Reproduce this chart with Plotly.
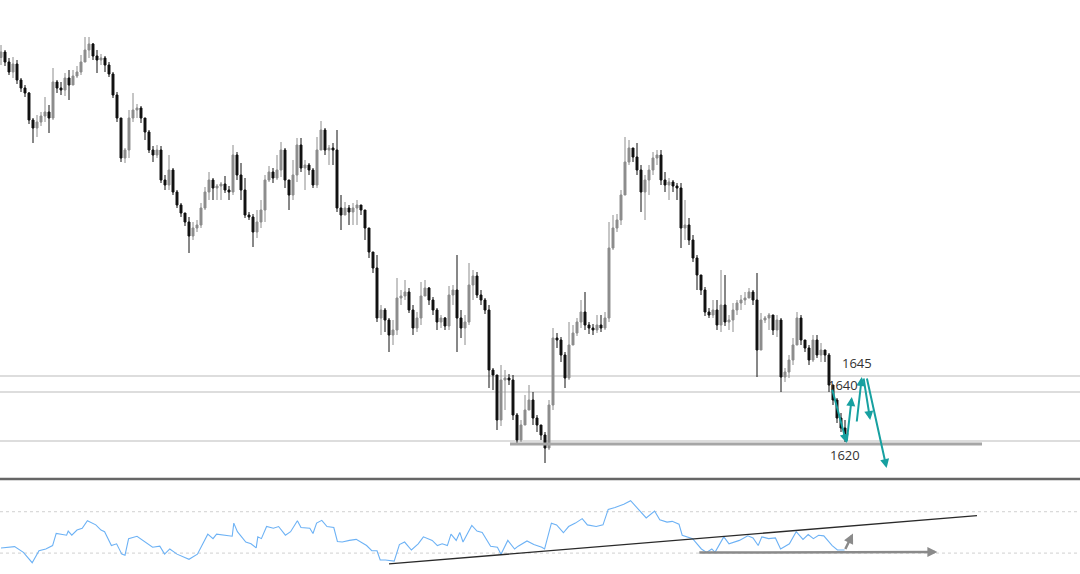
import plotly.graph_objects as go

# ---- price data (candles, one per bar) ----
close = [1777.2, 1773.2, 1769.2, 1772.4, 1766, 1762.8, 1760.8, 1750, 1746.8, 1749.2, 1751.6, 1753.2, 1750.8, 1765.2,
         1762.8, 1762, 1766.8, 1764, 1767.6, 1769.2, 1773.2, 1778, 1780.4, 1775.6, 1774, 1774.8, 1772, 1768.4, 1760,
         1750.8, 1734.8, 1738,
         1750.8, 1754, 1754.8, 1750.8, 1745.2, 1738, 1736, 1738, 1726, 1724, 1730, 1721.2, 1716, 1712.8, 1709.2,
         1703.6, 1706.8, 1708, 1714.8, 1721.2, 1726, 1722.8, 1723.6, 1724.4, 1722, 1721.2, 1736, 1728, 1722, 1712,
         1711.2, 1705.2, 1709.2, 1714, 1726, 1729.2, 1726.8, 1730, 1738, 1726, 1720, 1728, 1740, 1730.8, 1732, 1730,
         1724, 1738, 1746, 1738, 1738.8, 1738, 1714.8, 1712, 1714.8, 1713.2, 1714.8, 1716, 1714, 1706.8, 1697.2,
         1690.8, 1670.8, 1674, 1670, 1664, 1666, 1678.8, 1679.6, 1681.2, 1674, 1666.8, 1670.8, 1679.6, 1682.8, 1678,
         1674, 1669.2, 1670.8, 1667.6, 1680, 1682, 1670.8, 1666.8, 1669.2, 1684, 1687.6, 1680, 1678, 1674, 1650,
         1648, 1630, 1646, 1646.8, 1646, 1632, 1622, 1628, 1634, 1638, 1630.8, 1628, 1624, 1618.8, 1636, 1662.8,
         1662, 1656, 1646.8, 1660, 1664.8, 1669.2, 1673.2, 1668, 1666.8, 1666, 1668, 1666.8, 1670.8, 1698.8, 1706.8,
         1710, 1720, 1733.2, 1738.8, 1735.2, 1730, 1721.2, 1726, 1730, 1734.8, 1736, 1726, 1724, 1725.2, 1723.6,
         1722.8, 1706.8, 1708, 1702, 1694.8, 1688, 1682, 1673.2, 1672, 1674, 1668, 1676, 1669.2, 1670, 1674, 1676.8,
         1678, 1678.8, 1681.2, 1678, 1658, 1670, 1670.8, 1672, 1666, 1670, 1647.2, 1649.2, 1654, 1660, 1670.8, 1662,
         1658.8, 1654, 1662, 1656, 1658, 1656, 1644, 1638, 1630.8, 1626.8, 1624]

high = [1780, 1778, 1774.8, 1775.2, 1774, 1766.8, 1764, 1761.2, 1750.8, 1752, 1753.2, 1759.2, 1756, 1770.8, 1766,
        1765.2, 1768.8, 1770, 1770, 1771.6, 1776, 1783.2, 1783.2, 1780.8, 1778, 1776.4, 1775.6, 1773.2, 1769.2,
        1761.2, 1750.8, 1738.8,
        1754, 1760.8, 1756.4, 1755.6, 1750.8, 1746, 1739.6, 1740, 1739.6, 1728, 1736, 1730.8, 1722, 1716.8, 1712.8,
        1711.2, 1709.2, 1710, 1716.8, 1723.2, 1729.2, 1726.8, 1724.4, 1725.2, 1727.6, 1723.6, 1740, 1737.2, 1732.8,
        1726.8, 1713.2, 1712.4, 1714, 1718, 1728, 1731.6, 1730.8, 1736, 1741.2, 1738.8, 1726, 1734, 1742.8, 1742.8,
        1734, 1732.8, 1730.8, 1743.2, 1749.6, 1746.8, 1740, 1740.8, 1746, 1720, 1717.2, 1716, 1716.8, 1718, 1716,
        1714, 1706.8, 1697.2, 1696, 1676, 1674.8, 1670.8, 1670, 1686.8, 1682, 1686, 1682.8, 1676, 1673.2, 1685.2,
        1686, 1683.2, 1679.2, 1674.8, 1672, 1671.2, 1683.6, 1684, 1696, 1674, 1672, 1692.8, 1690, 1689.2, 1682,
        1678.8, 1676, 1650.8, 1648, 1652, 1650, 1648.4, 1648, 1632.8, 1630, 1640, 1644, 1641.2, 1632, 1628, 1625.2,
        1638, 1666.8, 1664.8, 1663.2, 1657.2, 1669.2, 1668, 1670.8, 1678, 1681.2, 1669.2, 1668.4, 1672, 1672,
        1673.2, 1709.2, 1712, 1712.4, 1722, 1743.2, 1742, 1738, 1740.8, 1732, 1728, 1732, 1737.2, 1738, 1738,
        1729.2, 1726.8, 1726, 1724.8, 1724.8, 1718, 1710.8, 1704, 1696, 1688, 1683.2, 1674.8, 1678, 1678, 1690,
        1688, 1672, 1676.8, 1678, 1680, 1681.2, 1682.8, 1682, 1688.8, 1672.8, 1671.6, 1672.8, 1672, 1672, 1670.8,
        1650.8, 1656, 1662.8, 1673.2, 1672, 1662, 1660, 1664, 1664, 1660.8, 1658, 1656.8, 1644, 1638.8, 1632.8,
        1630]

low = [1772, 1771.6, 1768, 1766.8, 1764.4, 1761.2, 1759.2, 1748.4, 1740.8, 1743.2, 1747.6, 1749.2, 1744.8, 1750,
       1760.8, 1760, 1759.6, 1758, 1764.8, 1766.8, 1768, 1773.2, 1774.8, 1774, 1768.8, 1772, 1769.2, 1767.2,
       1758.8, 1749.2, 1733.2, 1732.8,
       1734.8, 1749.2, 1750.8, 1748.8, 1742, 1736.8, 1733.2, 1734.8, 1724.8, 1722, 1722, 1720, 1714.8, 1711.2,
       1707.6, 1696.8, 1702, 1705.2, 1706.8, 1714, 1718, 1718, 1718, 1718, 1720.8, 1718, 1720, 1726, 1718, 1710.8,
       1710, 1699.2, 1702.8, 1706.8, 1709.2, 1725.2, 1724.8, 1726, 1727.2, 1722.8, 1714, 1718, 1725.2, 1729.2,
       1722, 1728, 1722.8, 1722.8, 1738, 1736, 1732, 1732, 1713.2, 1706, 1712, 1708, 1708, 1708, 1712, 1702,
       1694.8, 1688.8, 1669.2, 1664, 1665.2, 1657.2, 1660, 1664, 1676, 1678, 1672.8, 1664, 1665.2, 1668, 1679.6,
       1676, 1672, 1666, 1666.8, 1666, 1666, 1676, 1657.2, 1662.8, 1660, 1668, 1678, 1678.8, 1676, 1672.4, 1642.8,
       1642, 1626, 1627.6, 1634, 1644, 1630, 1620.8, 1621.2, 1630.8, 1636, 1628, 1625.2, 1622, 1612.8, 1618, 1634,
       1658.8, 1653.2, 1642.8, 1646, 1662, 1663.6, 1666.8, 1666, 1664.4, 1664, 1664.8, 1665.2, 1666, 1669.2, 1698,
       1705.2, 1708, 1720, 1732, 1733.2, 1728, 1713.2, 1710, 1720, 1728, 1732, 1724, 1721.2, 1718, 1721.2, 1718,
       1698.8, 1702, 1700, 1693.2, 1682, 1680, 1671.6, 1670.8, 1670.8, 1666, 1665.2, 1667.6, 1666, 1665.2, 1672,
       1674, 1676, 1678.8, 1676, 1647.2, 1658, 1668.8, 1666, 1664, 1663.2, 1641.2, 1645.2, 1646.8, 1652, 1660,
       1660, 1657.2, 1652, 1653.2, 1654.8, 1653.2, 1653.2, 1641.2, 1636, 1628.8, 1625.2, 1621.2]

first_open = 1775.0

# ---- oscillator (bar position, value) ----
osc_bar = [0, 3.4, 5.6, 7.8, 9.5, 11.2, 12.9, 13.8, 16.4, 16.8, 17.7, 19, 20.3, 21.6, 23.7, 25, 25.9, 27.6, 28.9,
           30.2, 31, 31.9, 34, 36.2, 37.9, 39.7, 40.9, 42.2, 44, 47, 49.1, 51.7, 53, 53.9, 56.9, 57.8, 58.2, 59.1,
           61.2, 62.5, 63.8, 64.2, 65.1, 66.4, 68.1, 69.4, 71.1, 72.4, 74.1, 75, 77.2, 78, 78.9, 80.2, 81.5, 83.2,
           84.1, 85.3, 87.1, 88.8, 91.4, 92.7, 94, 94.8, 96.1, 98.3, 99.6, 100.9, 102.6, 104.3, 105.6, 107.8, 109.1,
           110.3, 111.6, 112.5, 113.8, 114.7, 115.5, 117.7, 119, 120.3, 122.4, 124.1, 125, 126.7, 128.4, 129.3,
           131.5, 133.2, 135.2, 135.9, 137.6, 138.9, 140.6, 141.9, 143.6, 145.3, 146.6, 148.8, 150.5, 151.8, 153.5,
           155.7, 157.4, 159.6, 161.3, 163.4, 164.7, 166.5, 167.8, 169.5, 170.3, 172.9, 175.1, 176.4, 177.7, 178.5,
           180.7, 182, 184.6, 186.7, 188, 189.3, 190.2, 191.9, 193.6, 194.9, 197.1, 198.8, 200.5, 201.8, 203.1,
           204.4, 205.7, 207.8, 209.1, 210.9]
osc_val = [35, 36.3, 30.7, 20.7, 32.3, 34, 37.3, 49, 47.3, 51.3, 47.3, 52.3, 54, 61.3, 57.3, 52.3, 50.7, 37.3, 39,
           29, 28, 44, 46.3, 40.7, 35.7, 36.7, 29, 34, 29, 24, 29, 48.3, 44, 48.3, 47.3, 46.3, 59, 50.7, 40.7, 39,
           35, 45.7, 44, 55.7, 54, 55.7, 47.3, 50.7, 61.3, 54.7, 54, 49, 59, 61.7, 55.7, 54.7, 41.3, 40.7, 42.3,
           43.3, 37.3, 32.3, 32.3, 23.3, 23.3, 22.3, 38.3, 40.7, 33, 39, 45.7, 42.3, 37.3, 39, 37.3, 48.3, 42.3, 50,
           40.7, 56.7, 51.3, 50, 36.7, 35.7, 29, 42.3, 34, 36.7, 41.7, 38.3, 35.7, 34, 59, 57.3, 49.7, 55.7, 59,
           63.3, 57.3, 55.7, 57.3, 72.3, 74, 77.3, 80.7, 70.7, 64, 70.7, 62.3, 60, 60.7, 58, 47.3, 44, 34, 30.7, 34,
           30.7, 45.7, 39, 42.3, 46.7, 44.7, 37.3, 45.7, 44, 44.7, 34, 39, 50.7, 43.3, 48, 44, 47.3, 46.7, 37.3, 33,
           33]

# ---- drawn levels and projections ----
level_lines = [1647.6, 1641.2, 1621.6]
support_level = 1620.4
support_span = [127.25, 245.25]
level_labels = ["1645", "1640", "1620"]
label_pos = [(214.0, 1653.0), (210.4, 1644.2), (211.0, 1616.0)]
projection = [  # (from bar, from price, to bar, to price)
    (207.7, 1642.8, 211.4, 1620.8),
    (211.4, 1620.8, 212.7, 1639.2),
    (213.9, 1628.8, 215.2, 1647.2),
    (215.6, 1647.2, 217.3, 1630.0),
    (216.4, 1647.2, 221.4, 1610.8),
]
osc_levels = [70, 30]
osc_trend = ([97, 244], [19.5, 66.3])
osc_arrows = [(174.2, 30.5, 234.1, 31.0), (210.9, 32.5, 213.0, 49.0)]

n = len(close)
if len(high) != n or len(low) != n:
    raise ValueError(f"lengths close={len(close)} high={len(high)} low={len(low)}")
open_ = [first_open] + close[:-1]
bars = list(range(n))

fig = go.Figure()
fig.add_trace(go.Candlestick(
    x=bars, open=open_, high=high, low=low, close=close,
    increasing=dict(line=dict(color="#8c8c8c", width=1), fillcolor="#8c8c8c"),
    decreasing=dict(line=dict(color="#111111", width=1), fillcolor="#111111"),
    whiskerwidth=0, xaxis="x", yaxis="y", showlegend=False, hoverinfo="skip"))

fig.add_trace(go.Scatter(x=osc_bar, y=osc_val, mode="lines",
                         line=dict(color="#6db2f5", width=1.1),
                         xaxis="x2", yaxis="y2", showlegend=False, hoverinfo="skip"))
fig.add_trace(go.Scatter(x=osc_trend[0], y=osc_trend[1], mode="lines",
                         line=dict(color="#2a2a2a", width=1.3),
                         xaxis="x2", yaxis="y2", showlegend=False, hoverinfo="skip"))

shapes = []
for lv in level_lines:
    shapes.append(dict(type="line", xref="paper", yref="y", x0=0, x1=1, y0=lv, y1=lv,
                       line=dict(color="#d2d2d2", width=1.5), layer="below"))
shapes.append(dict(type="line", xref="x", yref="y", x0=support_span[0], x1=support_span[1],
                   y0=support_level, y1=support_level, line=dict(color="#a6a6a6", width=3)))
for lv in osc_levels:
    shapes.append(dict(type="line", xref="paper", yref="y2", x0=0, x1=1, y0=lv, y1=lv,
                       line=dict(color="#d0d0d0", width=1, dash="dot"), layer="below"))
shapes.append(dict(type="line", xref="paper", yref="paper", x0=0, x1=1, y0=0.1655, y1=0.1655,
                   line=dict(color="#666666", width=2.5)))

annotations = []
for (x0, y0, x1, y1) in projection:
    annotations.append(dict(x=x1, y=y1, ax=x0, ay=y0, xref="x", yref="y", axref="x", ayref="y",
                            text="", showarrow=True, arrowhead=2, arrowsize=0.9, arrowwidth=2,
                            arrowcolor="#17a0a0"))
for (x0, y0, x1, y1) in osc_arrows:
    annotations.append(dict(x=x1, y=y1, ax=x0, ay=y0, xref="x2", yref="y2", axref="x2", ayref="y2",
                            text="", showarrow=True, arrowhead=2, arrowsize=0.8, arrowwidth=2.5,
                            arrowcolor="#8a8a8a"))
for txt, (lx, ly) in zip(level_labels, label_pos):
    annotations.append(dict(x=lx, y=ly, xref="x", yref="y", text=txt, showarrow=False,
                            font=dict(family="Open Sans, Noto Sans, sans-serif", size=13, color="#333333")))

xr = [-0.25, 269.75]
fig.update_layout(
    width=1080, height=574,
    margin=dict(l=0, r=0, t=0, b=0),
    paper_bgcolor="white", plot_bgcolor="white",
    showlegend=False,
    xaxis=dict(domain=[0, 1], range=xr, anchor="y", visible=False, rangeslider=dict(visible=False)),
    yaxis=dict(domain=[0.16725, 1], range=[1606.8, 1798], visible=False),
    xaxis2=dict(domain=[0, 1], range=xr, anchor="y2", visible=False),
    yaxis2=dict(domain=[0, 0.162], range=[9.8, 99.7], visible=False),
    shapes=shapes, annotations=annotations,
)

fig.write_html("out.html", config={"displayModeBar": False},
               post_script="document.body.style.margin='0';document.body.style.padding='0';"
                           "document.body.style.overflow='hidden';")
